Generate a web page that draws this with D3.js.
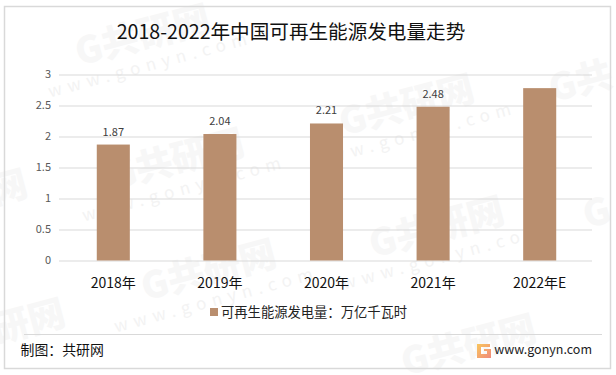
<!DOCTYPE html>
<html>
<head>
<meta charset="utf-8">
<script src="https://cdn.jsdelivr.net/npm/d3@7"></script>
<style>
html, body { margin: 0; padding: 0; background: #fff; }
svg { display: block; }
text { font-family: "Noto Sans CJK SC", "Noto Sans", sans-serif; }
</style>
</head>
<body>
<svg id="chart" width="616" height="375"></svg>
<script>
const categories = ["2018年", "2019年", "2020年", "2021年", "2022年E"];
const values = [1.87, 2.04, 2.21, 2.48, 2.78];
const valueLabels = ["1.87", "2.04", "2.21", "2.48", ""];
const yTicks = [0, 0.5, 1, 1.5, 2, 2.5, 3];

const titleText = "2018-2022年中国可再生能源发电量走势";
const legendText = "可再生能源发电量：万亿千瓦时";
const sourceText = "制图：共研网";
const siteText = "www.gonyn.com";

const svg = d3.select("#chart");

// watermark tiles, drawn first so everything sits on top
const marks = [
    { x: 146, y: 48, t: "G共研网", u: "www.gonyn.com" },
    { x: 180, y: 172, t: "G共研网", u: "www.gonyn.com" },
    { x: 212, y: 283, t: "G共研网", u: "www.gonyn.com" },
    { x: 410, y: 118, t: "G共研网", u: "www.gonyn.com" },
    { x: 440, y: 240, t: "G共研网", u: "www.gonyn.com" },
    { x: 472, y: 358, t: "G共研网", u: "" },
    { x: 584, y: 94, t: "G共", u: "" },
    { x: 32, y: 334, t: "研网", u: "" },
    { x: 12, y: 200, t: "网", u: "" },
    { x: 600, y: 225, t: "G", u: "" }
];
const wm = svg.append("g").selectAll("g")
    .data(marks)
    .enter().append("g")
    .attr("transform", d => `translate(${d.x},${d.y}) rotate(-15)`);
wm.append("text")
    .attr("text-anchor", "middle")
    .attr("font-size", 37)
    .attr("font-weight", 900)
    .attr("fill", "#f7f7f7")
    .text(d => d.t);
wm.append("text")
    .attr("text-anchor", "middle")
    .attr("y", 23)
    .attr("font-size", 17)
    .attr("letter-spacing", 6)
    .attr("fill", "#f3f3f3")
    .text(d => d.u);

// outer frame
svg.append("rect")
    .attr("x", 4.5).attr("y", 6.5)
    .attr("width", 606).attr("height", 362)
    .attr("fill", "none")
    .attr("stroke", "#d9d9d9")
    .attr("stroke-width", 1.5);

svg.append("text")
    .attr("x", 291).attr("y", 39)
    .attr("text-anchor", "middle")
    .attr("font-size", 19.6)
    .attr("fill", "#111")
    .text(titleText);

const x = d3.scaleBand().domain(categories).range([60, 593]).paddingInner(0.69).paddingOuter(0.345);
const y = d3.scaleLinear().domain([0, 3]).range([260.5, 74.5]);

// gridlines
svg.append("g")
    .attr("transform", "translate(59,0)")
    .call(d3.axisLeft(y).tickValues(yTicks).tickSize(-533).tickFormat(d3.format("~g")))
    .call(g => g.select(".domain").remove())
    .call(g => g.selectAll("line").attr("stroke", "#d9d9d9").attr("stroke-width", 1))
    .call(g => g.selectAll("text")
        .attr("x", -8)
        .attr("dy", "0.25em")
        .attr("font-size", 11)
        .attr("fill", "#595959"));

svg.append("g").selectAll("rect")
    .data(values)
    .enter().append("rect")
    .attr("x", (d, i) => x(categories[i]))
    .attr("y", d => y(d))
    .attr("width", x.bandwidth())
    .attr("height", d => y(0) - y(d))
    .attr("fill", "#b98e6e");

svg.append("g").selectAll("text")
    .data(values)
    .enter().append("text")
    .attr("x", (d, i) => x(categories[i]) + x.bandwidth() / 2)
    .attr("y", d => y(d) - 9)
    .attr("text-anchor", "middle")
    .attr("font-size", 11)
    .attr("fill", "#404040")
    .text((d, i) => valueLabels[i]);

svg.append("g").selectAll("text")
    .data(categories)
    .enter().append("text")
    .attr("x", d => x(d) + x.bandwidth() / 2)
    .attr("y", 288)
    .attr("text-anchor", "middle")
    .attr("font-size", 14)
    .attr("fill", "#111")
    .text(d => d);

// legend
svg.append("rect")
    .attr("x", 210).attr("y", 308)
    .attr("width", 8).attr("height", 8)
    .attr("fill", "#b98e6e");
svg.append("text")
    .attr("x", 221).attr("y", 317)
    .attr("font-size", 13.3)
    .attr("fill", "#222")
    .text(legendText);

// footer
svg.append("line")
    .attr("x1", 24).attr("x2", 602)
    .attr("y1", 334.5).attr("y2", 334.5)
    .attr("stroke", "#d9d9d9")
    .attr("stroke-width", 1);
svg.append("text")
    .attr("x", 20.5).attr("y", 355)
    .attr("font-size", 13.9)
    .attr("fill", "#111")
    .text(sourceText);

const logoGrad = svg.append("defs").append("linearGradient")
    .attr("id", "logoGrad")
    .attr("x1", 0).attr("x2", 1).attr("y1", 0).attr("y2", 1);
logoGrad.append("stop").attr("offset", 0).attr("stop-color", "#f9c65c");
logoGrad.append("stop").attr("offset", 1).attr("stop-color", "#f08a7c");
svg.append("path")
    .attr("d", "M477 344h13v3h-9v7h6v-3h-3v-2h7v9h-14z")
    .attr("fill", "url(#logoGrad)");

svg.append("text")
    .attr("x", 592).attr("y", 354)
    .attr("text-anchor", "end")
    .attr("font-size", 12.5)
    .attr("fill", "#222")
    .text(siteText);
</script>
</body>
</html>
